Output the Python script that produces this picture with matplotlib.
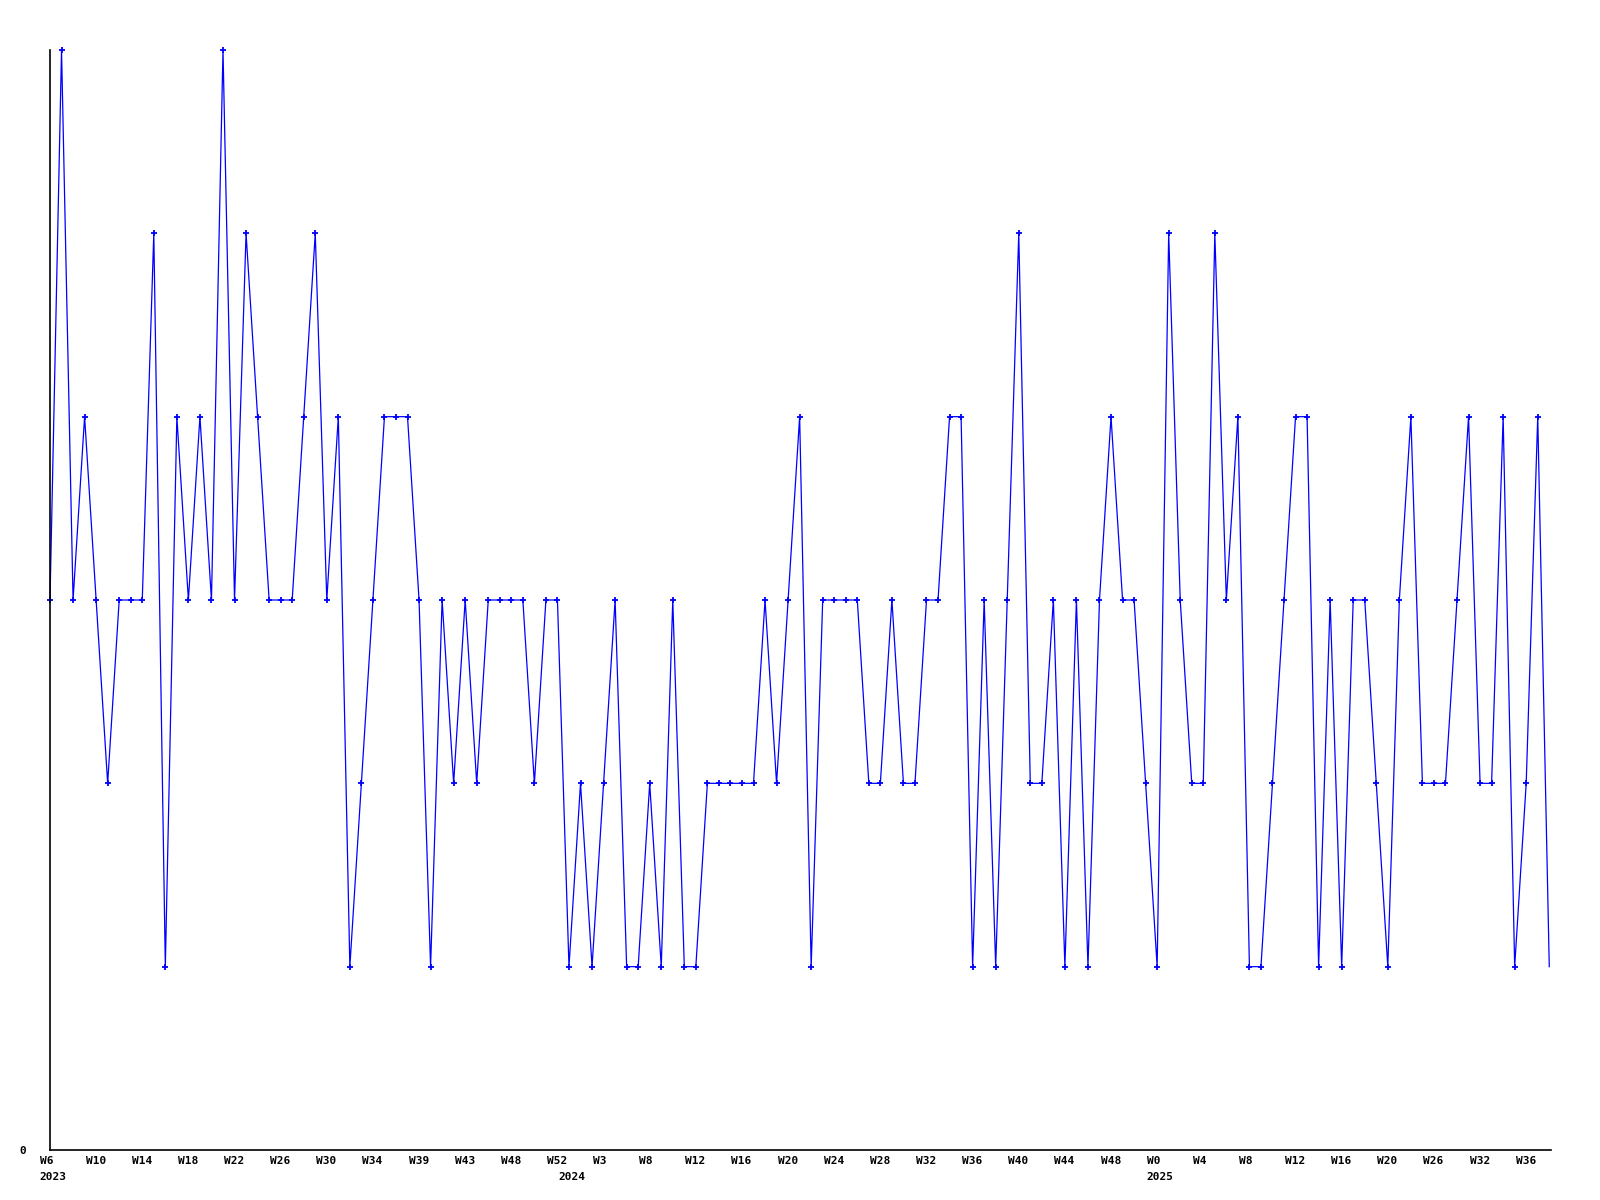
import matplotlib
matplotlib.use("Agg")
import matplotlib.pyplot as plt

# weekly values, one per point (131 points)
values = [3, 6, 3, 4, 3, 2, 3, 3, 3, 5,
          1, 4, 3, 4, 3, 6, 3, 5, 4, 3,
          3, 3, 4, 5, 3, 4, 1, 2, 3, 4,
          4, 4, 3, 1, 3, 2, 3, 2, 3, 3,
          3, 3, 2, 3, 3, 1, 2, 1, 2, 3,
          1, 1, 2, 1, 3, 1, 1, 2, 2, 2,
          2, 2, 3, 2, 3, 4, 1, 3, 3, 3,
          3, 2, 2, 3, 2, 2, 3, 3, 4, 4,
          1, 3, 1, 3, 5, 2, 2, 3, 1, 3,
          1, 3, 4, 3, 3, 2, 1, 5, 3, 2,
          2, 5, 3, 4, 1, 1, 2, 3, 4, 4,
          1, 3, 1, 3, 3, 2, 1, 3, 4, 2,
          2, 2, 3, 4, 2, 2, 4, 1, 2, 4,
          1]

# a week label every 4th point
week_labels = ["W6", "W10", "W14", "W18", "W22", "W26", "W30", "W34", "W39",
               "W43", "W48", "W52", "W3", "W8", "W12", "W16", "W20", "W24",
               "W28", "W32", "W36", "W40", "W44", "W48", "W0", "W4", "W8",
               "W12", "W16", "W20", "W26", "W32", "W36"]
years = ["2023", "2024", "2025"]
year_start = [0, 45, 96]

font = dict(family="DejaVu Sans Mono", weight="bold", size=8)

fig = plt.figure(figsize=(16, 12), dpi=100)
ax = fig.add_axes([50 / 1600, 50 / 1200, 1501 / 1600, 1100 / 1200])

x = list(range(len(values)))
ax.plot(x, values, color="#0000ff", lw=0.9, marker="+", ms=4, mew=1.3,
        markevery=list(range(len(values) - 1)), clip_on=False)

ax.set_xlim(0, len(values) - 1 + 0.15)
ax.set_ylim(0, 6)

for s in ["top", "right"]:
    ax.spines[s].set_visible(False)
for s in ["left", "bottom"]:
    ax.spines[s].set_linewidth(1.2)
    ax.spines[s].set_color("black")

ax.set_xticks([])
ax.set_yticks([0])
ax.set_yticklabels(["0"], **font)
ax.tick_params(axis="y", length=0, pad=17.5)

for k, lab in enumerate(week_labels):
    ax.annotate(lab, (k * 4, 0), xytext=(-10.5, -11), textcoords="offset pixels",
                ha="left", va="center", annotation_clip=False, **font)
for lab, i in zip(years, year_start):
    ax.annotate(lab, (i, 0), xytext=(-10.5, -27), textcoords="offset pixels",
                ha="left", va="center", annotation_clip=False, **font)

fig.savefig("out.png", dpi=100)
